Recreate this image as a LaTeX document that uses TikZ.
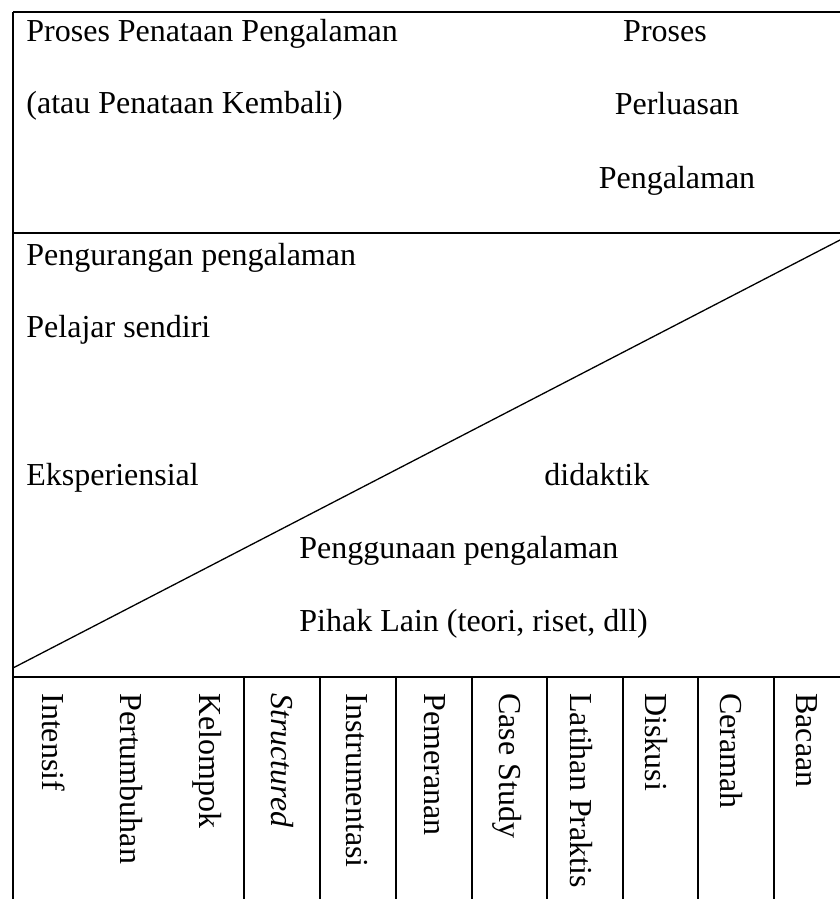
\documentclass[tikz,border=0pt]{standalone}
\usepackage{fontspec}
\setmainfont{Liberation Serif}
\begin{document}
\begin{tikzpicture}[x=0.5pt,y=-0.5pt,
  txt/.style={anchor=base west,inner sep=0pt,font=\fontsize{16}{19}\selectfont},
  ctxt/.style={anchor=base,inner sep=0pt,font=\fontsize{16}{19}\selectfont},
  vtxt/.style={anchor=west,rotate=-90,inner sep=0pt,font=\fontsize{16}{19}\selectfont},
  rule/.style={line width=0.75pt},
  diag/.style={line width=0.65pt}]
\useasboundingbox (0,0) rectangle (840,899);
% frame
\coordinate (tl) at (13,12);
\coordinate (tr) at (840,12);
\coordinate (ml) at (13,233);
\coordinate (mr) at (840,233);
\coordinate (bl) at (13,677);
\coordinate (br) at (840,677);
\coordinate (dl) at (13,668);
\coordinate (dr) at (840,240);
\coordinate (bot) at (13,899);
\draw[rule] (tl) -- (tr);
\draw[rule] (tl) -- (bot);
\draw[rule] (ml) -- (mr);
\draw[rule] (bl) -- (br);
\draw[diag] (dl) -- (dr);
\foreach \x in {244,320,396,472,547,623,698,774}{
  \draw[rule] (\x,677) -- (\x,899);
}
% top texts
\node[txt] (t1) at (26,42) {Proses Penataan Pengalaman};
\node[txt] (t2) at (26,113) {(atau Penataan Kembali)};
\node[ctxt] (t3) at (665,42) {Proses};
\node[ctxt] (t4) at (677,115) {Perluasan};
\node[ctxt] (t5) at (677,188) {Pengalaman};
% middle texts
\node[txt] (m1) at (26,265) {Pengurangan pengalaman};
\node[txt] (m2) at (26,337) {Pelajar sendiri};
\node[txt] (m3) at (26,485) {Eksperiensial};
\node[txt] (m4) at (544,485) {didaktik};
\node[txt] (m5) at (299,558) {Penggunaan pengalaman};
\node[txt] (m6) at (299,631) {Pihak Lain (teori, riset, dll)};
% vertical texts
\node[vtxt] (v1) at (54,693) {Intensif};
\node[vtxt] (v2) at (131,693) {Pertumbuhan};
\node[vtxt] (v3) at (207,693) {Kelompok};
\node[vtxt] (v4) at (282,693) {\itshape Structured};
\node[vtxt] (v5) at (357,693) {Instrumentasi};
\node[vtxt] (v6) at (435,693) {Pemeranan};
\node[vtxt] (v7) at (507,693) {Case Study};
\node[vtxt] (v8) at (581,693) {Latihan Praktis};
\node[vtxt] (v9) at (656,693) {Diskusi};
\node[vtxt] (v10) at (731,693) {Ceramah};
\node[vtxt] (v11) at (807,693) {Bacaan};
\end{tikzpicture}
\end{document}
